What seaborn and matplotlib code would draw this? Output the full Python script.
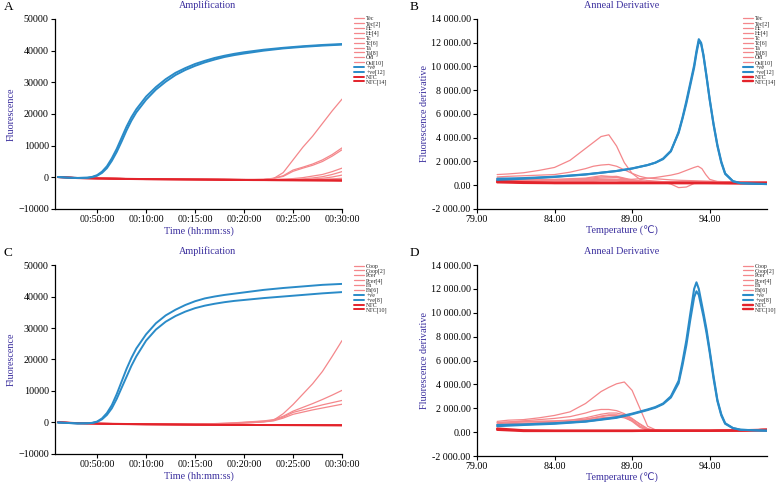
import matplotlib
matplotlib.use("Agg")
import matplotlib.pyplot as plt
from matplotlib.ticker import FuncFormatter
import seaborn as sns

# ---- data ----
# amplification time grids (minutes)
t_blue = [1, 2, 3, 4, 4.5, 5, 5.5, 6, 6.5, 7, 7.5, 8, 8.5, 9, 10, 11, 12, 13, 14, 15,
          16, 17, 18, 19, 20, 22, 24, 26, 28, 30]
t_pink = [1, 3, 5, 10, 15, 17, 19, 21, 22, 23, 24, 25, 26, 27, 28, 29, 30]

# panel A
a_tec = [100, -150, -300, -500, -600, -650, -700, -700, -700, -400, 1500, 5500, 9500, 13000, 17000, 21000, 24700]
a_tec2 = [100, -150, -300, -500, -600, -650, -700, -700, -650, -300, 500, 2300, 3200, 4200, 5500, 7200, 9300]
a_hc = [100, -150, -300, -500, -600, -650, -700, -700, -650, -350, 300, 1900, 2900, 3800, 5000, 6700, 8700]
a_hc4 = [100, -150, -300, -500, -600, -650, -700, -700, -700, -650, -550, -400, -100, 400, 900, 1800, 2900]
a_tc = [100, -150, -300, -500, -600, -650, -700, -750, -750, -750, -700, -650, -500, -200, 200, 900, 1800]
a_tc6 = [100, -150, -300, -500, -600, -650, -700, -750, -750, -750, -750, -700, -650, -550, -300, 100, 700]
a_ta = [100, -150, -300, -500, -600, -650, -700, -750, -750, -750, -750, -750, -700, -650, -600, -500, -300]
a_ta8 = [100, -150, -300, -500, -600, -650, -700, -750, -750, -750, -750, -750, -750, -700, -700, -650, -600]
a_osl = [100, -150, -300, -500, -600, -650, -700, -750, -750, -760, -770, -780, -780, -790, -790, -800, -800]
a_osl10 = [100, -150, -300, -500, -650, -700, -750, -780, -800, -800, -820, -840, -850, -860, -870, -880, -900]
a_ntc = [100, -200, -350, -550, -700, -750, -800, -850, -850, -870, -890, -900, -920, -940, -960, -980, -1000]
a_ntc14 = [50, -250, -400, -600, -720, -770, -820, -870, -880, -900, -910, -930, -950, -960, -980, -1000, -1050]
a_pos = [100, -100, -200, -100, 150, 700, 1800, 3500, 6000, 9000, 12500, 16000, 19000, 21500, 25500,
         28500, 31000, 33000, 34500, 35800, 36800, 37700, 38400, 39000, 39500, 40300, 40900, 41400, 41800, 42100]
a_pos12 = [100, -100, -200, -150, 50, 500, 1400, 2900, 5200, 8000, 11300, 14800, 17900, 20500, 24500,
           27700, 30200, 32300, 33900, 35200, 36300, 37200, 38000, 38600, 39100, 40000, 40700, 41200, 41600, 41900]

# panel C
c_coop = [100, -150, -300, -500, -600, -500, -300, 0, 200, 700, 2800, 5700, 9000, 12300, 16200, 21000, 26000]
c_coop2 = [100, -150, -300, -500, -500, -350, -100, 300, 500, 900, 2000, 3600, 4800, 6000, 7300, 8700, 10200]
c_pcer = [100, -150, -300, -500, -550, -400, -200, 200, 400, 700, 1700, 3200, 4000, 4800, 5600, 6300, 7000]
c_pcer4 = [100, -150, -300, -500, -550, -450, -300, 0, 200, 500, 1400, 2600, 3300, 4000, 4600, 5200, 5800]
c_fh = [100, -150, -300, -500, -600, -650, -700, -720, -730, -740, -750, -760, -770, -780, -790, -800, -800]
c_fh6 = [50, -200, -350, -550, -650, -700, -730, -750, -760, -770, -780, -790, -800, -810, -820, -830, -850]
c_ntc = [100, -200, -350, -550, -700, -730, -760, -780, -790, -800, -810, -820, -830, -840, -850, -860, -870]
c_ntc10 = [50, -250, -400, -600, -720, -750, -780, -800, -810, -820, -830, -840, -850, -860, -870, -880, -900]
c_pos = [0, -150, -300, -250, -100, 300, 1300, 3000, 5500, 9000, 13000, 17000, 20500, 23500, 28000,
         31500, 34000, 35800, 37300, 38500, 39400, 40000, 40500, 40900, 41300, 42100, 42700, 43200, 43700, 44000]
c_pos8 = [0, -150, -300, -250, -150, 200, 1000, 2400, 4500, 7500, 11000, 14500, 18000, 21000, 26000,
          29500, 32000, 33800, 35200, 36300, 37100, 37700, 38200, 38600, 38900, 39500, 40000, 40500, 41000, 41400]

# melt temperature grids (deg C)
t_melt = [80.3, 81, 82, 83, 84, 85, 86, 86.5, 87, 87.5, 88, 88.5, 89, 89.5, 90, 90.5, 91, 91.5,
          92, 92.5, 93, 93.25, 93.5, 93.75, 94, 94.5, 95, 95.5, 96, 97, 97.7]
t_peak = [80.3, 82, 84, 86, 88, 89, 90, 90.5, 91, 91.5, 92, 92.25, 92.5, 92.75, 93, 93.15, 93.3,
          93.45, 93.6, 93.8, 94, 94.25, 94.5, 94.75, 95, 95.5, 96, 97, 97.7]
t_flat = [80.3, 82, 84, 86, 87, 88, 89, 90, 92, 94, 96, 97.7]
t_dip = [80.3, 84, 88, 90, 91, 91.5, 92, 92.5, 93, 96, 97.7]

# panel B
b_tec = [900, 950, 1050, 1250, 1500, 2100, 3100, 3600, 4100, 4250, 3300, 1900, 1000, 500, 400, 350, 300,
         300, 300, 300, 300, 300, 300, 300, 300, 300, 300, 300, 300, 300, 300]
b_tec2 = [700, 750, 800, 850, 900, 1100, 1400, 1600, 1700, 1750, 1600, 1300, 1000, 750, 600, 550, 500,
          450, 420, 400, 380, 370, 360, 350, 340, 320, 300, 300, 300, 300, 300]
b_hc = [400, 400, 420, 430, 440, 450, 450, 450, 460, 460, 470, 480, 500, 550, 600, 650, 750, 850,
        1000, 1250, 1500, 1600, 1400, 900, 500, 300, 250, 250, 250, 250, 250]
b_hc4 = [350, 400, 450, 300, 250, 100, -200, -150, 150, 250, 250]
b_tc = [500, 400, 450, 550, 700, 750, 450, 300, 250, 250, 250, 300]
b_tc6 = [300, 350, 400, 500, 600, 650, 400, 250, 200, 200, 250, 250]
b_ta = [600, 500, 500, 600, 800, 700, 400, 300, 250, 200, 200, 250]
b_ta8 = [400, 300, 350, 400, 500, 500, 350, 250, 200, 200, 200, 200]
b_osl = [300, 300, 300, 350, 400, 400, 300, 200, 200, 150, 150, 200]
b_osl10 = [350, 250, 300, 300, 350, 350, 250, 200, 150, 150, 150, 150]
b_ntc = [350, 250, 200, 200, 200, 200, 200, 200, 200, 200, 200, 200]
b_ntc14 = [250, 200, 180, 180, 180, 180, 180, 180, 180, 180, 150, 150]
b_pos = [450, 550, 700, 900, 1200, 1400, 1700, 1900, 2200, 2850, 4500, 5700, 7100, 8600, 10100,
         11300, 12300, 12000, 11000, 9200, 7300, 5200, 3400, 2000, 1000, 350, 180, 120, 100]
b_pos12 = [550, 600, 720, 920, 1200, 1420, 1700, 1900, 2250, 2900, 4400, 5600, 6900, 8400, 9900,
           11100, 12100, 11900, 10900, 9100, 7200, 5100, 3300, 1900, 950, 330, 170, 120, 100]

# panel D
d_coop = [900, 1000, 1050, 1200, 1400, 1700, 2400, 2900, 3400, 3750, 4050, 4200, 3500, 2000, 500, 200,
          150, 150, 150, 150, 150, 150, 150, 150, 150, 150, 150, 200, 200, 200, 250]
d_coop2 = [800, 850, 950, 1050, 1150, 1300, 1600, 1800, 1900, 1900, 1800, 1550, 1150, 650, 250, 150,
           150, 150, 150, 150, 150, 150, 150, 150, 150, 150, 150, 200, 200, 200, 250]
d_pcer = [700, 780, 850, 880, 900, 1000, 1200, 1350, 1500, 1600, 1600, 1450, 1100, 700, 300, 150,
          100, 100, 100, 120, 120, 120, 120, 120, 120, 150, 150, 150, 150, 200, 250]
d_pcer4 = [800, 850, 900, 920, 950, 1000, 1100, 1200, 1350, 1450, 1450, 1350, 1000, 500, 200, 100,
           100, 100, 100, 120, 120, 120, 120, 120, 120, 150, 150, 150, 150, 200, 250]
d_fh = [600, 700, 750, 780, 800, 900, 1050, 1200, 1300, 1400, 1400, 1250, 900, 400, 150, 100,
        100, 100, 100, 120, 120, 120, 120, 120, 120, 150, 150, 150, 150, 200, 250]
d_fh6 = [650, 650, 700, 750, 800, 850, 1000, 1100, 1200, 1250, 1300, 1200, 950, 500, 200, 100,
         100, 100, 100, 120, 120, 120, 120, 120, 120, 150, 150, 150, 150, 200, 250]
d_ntc = [300, 150, 120, 120, 120, 120, 120, 120, 120, 120, 150, 200]
d_ntc10 = [200, 100, 100, 100, 100, 100, 100, 120, 120, 120, 120, 150]
d_pos = [600, 650, 750, 900, 1250, 1550, 1900, 2100, 2400, 3000, 4300, 5900, 7700, 9900, 12000,
         12550, 12000, 11000, 10000, 8600, 6900, 4700, 2700, 1500, 750, 350, 200, 150, 120]
d_pos8 = [500, 600, 700, 880, 1200, 1500, 1850, 2050, 2350, 2900, 4100, 5600, 7300, 9400, 11300,
          11800, 11500, 10600, 9700, 8300, 6700, 4500, 2600, 1400, 700, 330, 200, 150, 120]

amp_ticks = [5, 10, 15, 20, 25, 30]
amp_ticklabels = ["00:50:00", "00:10:00", "00:15:00", "00:20:00", "00:25:00", "00:30:00"]
melt_ticks = [79, 84, 89, 94]

PINK = "#f4878b"
BLUE = "#2a8bc8"
RED = "#e3232b"
INK = "#3b2f9e"

sns.set_theme(style="ticks")
plt.rcParams["font.family"] = ["Liberation Serif", "DejaVu Sans"]
plt.rcParams["axes.linewidth"] = 0.9
plt.rcParams["xtick.major.size"] = 3
plt.rcParams["ytick.major.size"] = 3

fig = plt.figure(figsize=(7.78, 4.82), dpi=100)
axA = fig.add_axes([0.0707, 0.5664, 0.3689, 0.3942])
axB = fig.add_axes([0.6131, 0.5664, 0.3728, 0.3942])
axC = fig.add_axes([0.0707, 0.0581, 0.3689, 0.3921])
axD = fig.add_axes([0.6131, 0.0539, 0.3728, 0.3963])


def draw(ax, series, lw_map):
    for name, x, y, kind in series:
        color = {"p": PINK, "b": BLUE, "r": RED}[kind]
        z = {"p": 2, "b": 4, "r": 3}[kind]
        sns.lineplot(x=x, y=y, ax=ax, color=color, lw=lw_map[kind], label=name, zorder=z)


def style_amp(ax, letter, legend_xy):
    ax.set_xlim(0.7, 30)
    ax.set_ylim(-10000, 50000)
    ax.set_xticks(amp_ticks)
    ax.set_xticklabels(amp_ticklabels)
    ax.set_yticks(range(-10000, 50001, 10000))
    ax.set_xlabel("Time (hh:mm:ss)", color=INK, fontsize=7.3, labelpad=1.5)
    ax.set_ylabel("Fluorescence", color=INK, fontsize=7.3, labelpad=2)
    ax.set_title("Amplification", color=INK, fontsize=7.3, pad=8, x=0.53)
    finish(ax, letter, legend_xy, -0.066)


def style_melt(ax, letter, legend_xy):
    ax.set_xlim(79, 97.7)
    ax.set_ylim(-2000, 14000)
    ax.set_xticks(melt_ticks)
    ax.xaxis.set_major_formatter(FuncFormatter(lambda v, p: f"{v:.2f}"))
    ax.set_yticks(range(-2000, 14001, 2000))
    ax.yaxis.set_major_formatter(FuncFormatter(lambda v, p: f"{v:,.2f}".replace(",", " ")))
    ax.set_xlabel("Temperature (\u2103)", color=INK, fontsize=7.3, labelpad=1.5)
    ax.set_ylabel("Fluorescence derivative", color=INK, fontsize=7.3, labelpad=1)
    ax.set_title("Anneal Derivative", color=INK, fontsize=7.3, pad=8)
    finish(ax, letter, legend_xy, -0.087)


def finish(ax, letter, legend_xy, letter_dx):
    sns.despine(ax=ax)
    for s in ["left", "bottom"]:
        ax.spines[s].set_color("black")
    ax.tick_params(labelsize=7.2, colors="black", pad=1.5, width=0.8)
    ax.legend(loc="upper left", bbox_to_anchor=legend_xy, bbox_transform=fig.transFigure,
              fontsize=4.2, frameon=False, labelspacing=-0.08, handlelength=1.8,
              handletextpad=0.3, borderpad=0, borderaxespad=0)
    pos = ax.get_position()
    fig.text(pos.x0 + letter_dx, pos.y1 + 0.012, letter,
             fontsize=9.5, color="black", ha="left", va="bottom")


draw(axA, [
    ("Tec", t_pink, a_tec, "p"), ("Tec[2]", t_pink, a_tec2, "p"), ("Hc", t_pink, a_hc, "p"),
    ("Hc[4]", t_pink, a_hc4, "p"), ("Tc", t_pink, a_tc, "p"), ("Tc[6]", t_pink, a_tc6, "p"),
    ("Ta", t_pink, a_ta, "p"), ("Ta[8]", t_pink, a_ta8, "p"), ("Osl", t_pink, a_osl, "p"),
    ("Osl[10]", t_pink, a_osl10, "p"), ("+ve", t_blue, a_pos, "b"), ("+ve[12]", t_blue, a_pos12, "b"),
    ("NTC", t_pink, a_ntc, "r"), ("NTC[14]", t_pink, a_ntc14, "r"),
], {"p": 0.9, "b": 1.4, "r": 1.4})
style_amp(axA, "A", (0.455, 0.966))

draw(axB, [
    ("Tec", t_melt, b_tec, "p"), ("Tec[2]", t_melt, b_tec2, "p"), ("Hc", t_melt, b_hc, "p"),
    ("Hc[4]", t_dip, b_hc4, "p"), ("Tc", t_flat, b_tc, "p"), ("Tc[6]", t_flat, b_tc6, "p"),
    ("Ta", t_flat, b_ta, "p"), ("Ta[8]", t_flat, b_ta8, "p"), ("Osl", t_flat, b_osl, "p"),
    ("Osl[10]", t_flat, b_osl10, "p"), ("+ve", t_peak, b_pos, "b"), ("+ve[12]", t_peak, b_pos12, "b"),
    ("NTC", t_flat, b_ntc, "r"), ("NTC[14]", t_flat, b_ntc14, "r"),
], {"p": 0.9, "b": 1.5, "r": 1.7})
style_melt(axB, "B", (0.955, 0.966))

draw(axC, [
    ("Coop", t_pink, c_coop, "p"), ("Coop[2]", t_pink, c_coop2, "p"), ("Pcer", t_pink, c_pcer, "p"),
    ("Pcer[4]", t_pink, c_pcer4, "p"), ("Fh", t_pink, c_fh, "p"), ("Fh[6]", t_pink, c_fh6, "p"),
    ("+ve", t_blue, c_pos, "b"), ("+ve[8]", t_blue, c_pos8, "b"),
    ("NTC", t_pink, c_ntc, "r"), ("NTC[10]", t_pink, c_ntc10, "r"),
], {"p": 0.9, "b": 1.4, "r": 1.4})
style_amp(axC, "C", (0.455, 0.453))

draw(axD, [
    ("Coop", t_melt, d_coop, "p"), ("Coop[2]", t_melt, d_coop2, "p"), ("Pcer", t_melt, d_pcer, "p"),
    ("Pcer[4]", t_melt, d_pcer4, "p"), ("Fh", t_melt, d_fh, "p"), ("Fh[6]", t_melt, d_fh6, "p"),
    ("+ve", t_peak, d_pos, "b"), ("+ve[8]", t_peak, d_pos8, "b"),
    ("NTC", t_flat, d_ntc, "r"), ("NTC[10]", t_flat, d_ntc10, "r"),
], {"p": 0.9, "b": 1.5, "r": 1.7})
style_melt(axD, "D", (0.955, 0.453))

fig.savefig("out.png", dpi=100)
